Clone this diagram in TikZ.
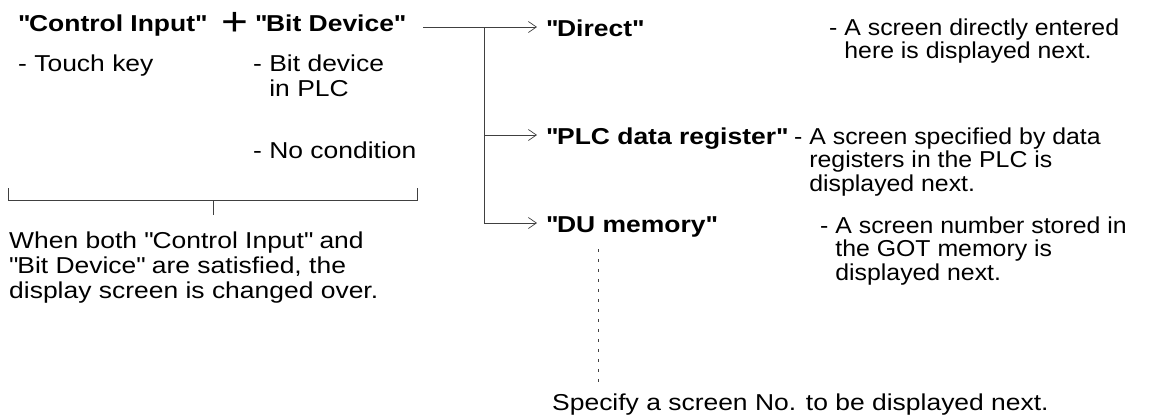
\documentclass[tikz,border=0pt]{standalone}
\usepackage{fontspec}
\setmainfont{Liberation Sans}[FakeStretch=1.15]
\newfontfamily\descfont{Liberation Sans}[FakeStretch=1.08]
\usetikzlibrary{arrows.meta}
\newcommand\qt{\XeTeXglyph\XeTeXcharglyph"22\relax}
\newcommand\ls[1]{\begin{tabular}[t]{@{}l@{}}#1\end{tabular}}
\begin{document}
\begin{tikzpicture}[x=1pt,y=-1pt,
  txt/.style={inner sep=0pt,anchor=base west,font=\fontsize{23}{25}\selectfont},
  dtxt/.style={inner sep=0pt,anchor=base west,font=\fontsize{23}{23.5}\selectfont\descfont},
  btxt/.style={inner sep=0pt,anchor=base west,font=\fontsize{23}{25}\selectfont\bfseries},
  ln/.style={line width=0.8pt,draw=black!75},
  arr/.style={ln,-{Straight Barb[length=8pt,width=11pt,line width=0.7pt]}}]
\useasboundingbox (0,0) rectangle (1160,416);
% left block
\node[btxt] (ci) at (18,31) {\qt Control Input\qt};
\node[inner sep=0pt,font=\fontsize{40}{40}\selectfont] (plus) at (235,24) {+};
\node[btxt] (bd) at (255,31) {\qt Bit Device\qt};
\node[txt] (tk) at (18,71) {- Touch key};
\node[txt] (bdv) at (253,71) {\ls{- Bit device\\\hphantom{- }in PLC}};
\node[txt] (nc) at (253,158) {- No condition};
% bracket
\coordinate (bl) at (8,188);
\coordinate (br) at (417,188);
\coordinate (bm) at (213,200);
\coordinate (bt) at (213,215);
\draw[ln] (bl) |- (br |- bm) -- (br);
\draw[ln] (bm) -- (bt);
\node[txt] (wb) at (9,248) {\ls{When both \qt Control Input\qt{} and\\\qt Bit Device\qt{} are satisfied, the\\display screen is changed over.}};
% right block
\node[btxt] (dir) at (546,36) {\qt Direct\qt};
\node[btxt] (plc) at (546,144) {\qt PLC data register\qt};
\node[btxt] (du) at (546,232) {\qt DU memory\qt};
\node[dtxt] (d1) at (829,35) {\ls{- A screen directly entered\\\hphantom{- }here is displayed next.}};
\node[dtxt] (d2) at (794,144) {\ls{- A screen specified by data\\\hphantom{- }registers in the PLC is\\\hphantom{- }displayed next.}};
\node[dtxt] (d3) at (820,233) {\ls{- A screen number stored in\\\hphantom{- }the GOT memory is\\\hphantom{- }displayed next.}};
\node[txt] (sp) at (552,410) {Specify a screen No. to be displayed next.};
% connectors
\coordinate (ts) at (423,27);
\coordinate (jt) at (484,27);
\coordinate (jp) at (484,135);
\coordinate (jb) at (484,223);
\coordinate (at) at (537,27);
\coordinate (ap) at (537,135);
\coordinate (ab) at (537,223);
\draw[arr] (ts) -- (at);
\draw[ln] (jt) -- (jb);
\draw[arr] (jp) -- (ap);
\draw[arr] (jb) -- (ab);
\coordinate (ds) at (598,249);
\coordinate (de) at (598,384);
\draw[ln,dash pattern=on 2.5pt off 7.5pt] (ds) -- (de);
\end{tikzpicture}
\end{document}
